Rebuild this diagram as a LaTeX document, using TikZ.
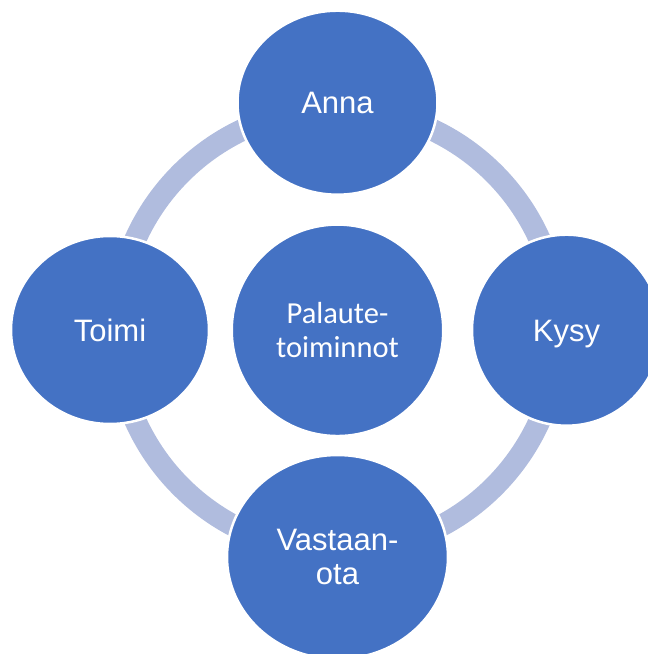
\documentclass[tikz,border=0pt]{standalone}
\usepackage{fontspec}
\setmainfont{Liberation Sans}
\newfontfamily\calfont{Carlito}
\usetikzlibrary{shapes.geometric}
\definecolor{bubbleblue}{RGB}{68,114,196}
\definecolor{ringblue}{RGB}{176,188,222}
\begin{document}
\begin{tikzpicture}[x=1pt,y=-1pt,
  bubble/.style={ellipse, fill=bubbleblue, draw=white, line width=2.5pt,
    inner sep=0pt, text=white, align=center,
    font=\fontsize{31}{33.3}\selectfont},
  oneline/.style={text height=22.2pt, text depth=0pt},
  ring/.style={draw=ringblue, line width=22pt}]
\useasboundingbox (0,0) rectangle (648,654);
\clip (0,0) rectangle (648,654);
\draw[ring] (337.5,330) circle [radius=221.5pt];
\node[bubble, oneline, minimum width=200pt, minimum height=184pt] (anna) at (337.5,102.7) {Anna};
\node[bubble, oneline, minimum width=198pt, minimum height=188pt] (toimi) at (110,330) {Toimi};
\node[bubble, oneline, minimum width=189pt, minimum height=191pt] (kysy) at (566.5,330.2) {Kysy};
\node[bubble, minimum width=221pt, minimum height=204pt] (vastaan) at (337.5,557) {Vastaan-\\ota};
\node[bubble, minimum width=211.5pt, minimum height=211.5pt,
  font=\calfont\fontsize{30.5}{34.4}\selectfont] (palaute) at (337.5,330.3) {Palaute-\\toiminnot};
\end{tikzpicture}
\end{document}
